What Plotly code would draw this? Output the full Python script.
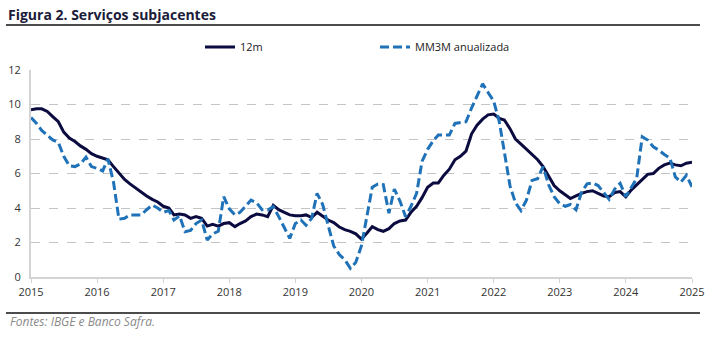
import pandas as pd
import plotly.graph_objects as go

months = pd.date_range("2015-01-01", "2025-01-01", freq="MS")

s12m = [
    9.70, 9.75, 9.75, 9.60, 9.30, 9.00, 8.40, 8.05, 7.85, 7.60, 7.40, 7.15,  # 2015
    7.00, 6.90, 6.80, 6.40, 6.00, 5.65, 5.40, 5.15, 4.90, 4.70, 4.50, 4.35,  # 2016
    4.10, 4.00, 3.60, 3.65, 3.60, 3.40, 3.50, 3.40, 2.95, 3.05, 2.95, 3.10,  # 2017
    3.15, 2.92, 3.10, 3.25, 3.50, 3.65, 3.60, 3.50, 4.15, 3.90, 3.75, 3.60,  # 2018
    3.55, 3.55, 3.60, 3.45, 3.75, 3.50, 3.30, 3.15, 2.90, 2.75, 2.65, 2.50,  # 2019
    2.20, 2.55, 2.92, 2.75, 2.65, 2.80, 3.10, 3.25, 3.30, 3.75, 4.10, 4.60,  # 2020
    5.20, 5.45, 5.45, 5.90, 6.25, 6.80, 7.00, 7.30, 8.30, 8.80, 9.15, 9.40,  # 2021
    9.45, 9.20, 9.10, 8.60, 8.00, 7.70, 7.40, 7.10, 6.80, 6.40, 5.80, 5.30,  # 2022
    5.00, 4.75, 4.55, 4.70, 4.85, 4.95, 5.00, 4.85, 4.70, 4.65, 4.90, 4.95,  # 2023
    4.65, 5.05, 5.35, 5.70, 5.95, 6.00, 6.30, 6.50, 6.60, 6.50, 6.45, 6.60,  # 2024
    6.65,                                                                    # 2025
]

mm3m = [
    9.25, 8.90, 8.50, 8.20, 7.95, 7.80, 7.00, 6.45, 6.40, 6.55, 6.95, 6.40,  # 2015
    6.30, 6.15, 6.85, 5.50, 3.35, 3.40, 3.60, 3.60, 3.60, 3.90, 4.17, 4.00,  # 2016
    3.75, 3.85, 3.30, 3.55, 2.63, 2.70, 3.10, 3.30, 2.14, 2.50, 2.65, 4.66,  # 2017
    3.95, 3.60, 3.75, 4.10, 4.46, 4.30, 3.90, 3.88, 4.08, 3.50, 2.90, 2.24,  # 2018
    3.10, 3.30, 3.00, 3.40, 4.85, 4.20, 3.00, 1.80, 1.30, 1.00, 0.50, 0.85,  # 2019
    1.80, 3.50, 5.20, 5.39, 5.35, 3.70, 5.10, 4.40, 3.50, 4.10, 4.85, 6.70,  # 2020
    7.40, 7.90, 8.23, 8.23, 8.23, 8.90, 8.95, 9.00, 9.80, 10.50, 11.20, 10.70,  # 2021
    10.20, 9.00, 7.20, 5.30, 4.30, 3.85, 4.46, 5.60, 5.70, 6.40, 5.33, 4.66,  # 2022
    4.25, 4.10, 4.20, 3.90, 4.90, 5.40, 5.45, 5.30, 4.90, 4.50, 5.10, 5.43,  # 2023
    4.66, 5.20, 5.70, 8.13, 7.94, 7.55, 7.36, 7.10, 6.90, 5.80, 5.50, 5.90,  # 2024
    5.23,                                                                    # 2025
]

y_ticks = [0, 2, 4, 6, 8, 10, 12]
x_tick_labels = [str(y) for y in range(2015, 2026)]
x_tick_vals = [pd.Timestamp(f"{y}-01-01") for y in range(2015, 2026)]

NAVY = "#0b0b40"
BLUE = "#1f72b8"
FONT = "Open Sans"

fig = go.Figure()
fig.add_trace(go.Scatter(x=months, y=s12m, mode="lines", name="12m",
                         line=dict(color=NAVY, width=3)))
fig.add_trace(go.Scatter(x=months, y=mm3m, mode="lines", name="MM3M anualizada",
                         line=dict(color=BLUE, width=3, dash="9px,4px")))

fig.update_layout(
    width=710, height=351,
    margin=dict(l=31, r=18, t=70, b=74, autoexpand=False),
    paper_bgcolor="white", plot_bgcolor="white",
    font=dict(family=FONT, size=11, color="#333333"),
    showlegend=True,
    legend=dict(orientation="h", x=0.2557, y=1.111, xanchor="left", yanchor="middle",
                entrywidth=130, entrywidthmode="pixels",
                font=dict(family=FONT, size=11, color="#222222"),
                bgcolor="rgba(0,0,0,0)", tracegroupgap=0),
    title=dict(text="<b>Figura 2. Serviços subjacentes</b>", x=8/710, xref="container",
               xanchor="left", y=1-15/351, yref="container", yanchor="middle",
               font=dict(family=FONT, size=14, color="#1b1b3a")),
    xaxis=dict(type="date", range=[pd.Timestamp("2015-01-01"), pd.Timestamp("2025-01-01")],
               tickvals=x_tick_vals, ticktext=x_tick_labels, automargin=False,
               showgrid=False, showline=True, linecolor="#d3d3d3", linewidth=2,
               ticks="outside", ticklen=4, tickcolor="#d3d3d3", tickwidth=1,
               tickfont=dict(family=FONT, size=11, color="#333333"), zeroline=False),
    yaxis=dict(range=[0, 12], tickvals=y_ticks, ticktext=[str(v) for v in y_ticks],
               showgrid=True, gridcolor="#c4c4c4", griddash="dash", gridwidth=1,
               showline=True, linecolor="#d3d3d3", linewidth=2, zeroline=False,
               ticks="", ticklabelstandoff=6, automargin=False,
               tickfont=dict(family=FONT, size=11, color="#333333")),
    shapes=[
        dict(type="line", xref="paper", yref="paper",
             x0=(6-31)/661, x1=(700-31)/661, y0=(277-25)/207, y1=(277-25)/207,
             line=dict(color="#111111", width=1.5)),
        dict(type="line", xref="paper", yref="paper",
             x0=(6-31)/661, x1=(700-31)/661, y0=(277-313)/207, y1=(277-313)/207,
             line=dict(color="#111111", width=1.5)),
    ],
    annotations=[
        dict(text="<i>Fontes: IBGE e Banco Safra.</i>", xref="paper", yref="paper",
             x=(8-31)/661, y=(277-321)/207, xanchor="left", yanchor="middle",
             showarrow=False, font=dict(family=FONT, size=12, color="#8a8a8a")),
    ],
)

fig.write_html("out.html")
